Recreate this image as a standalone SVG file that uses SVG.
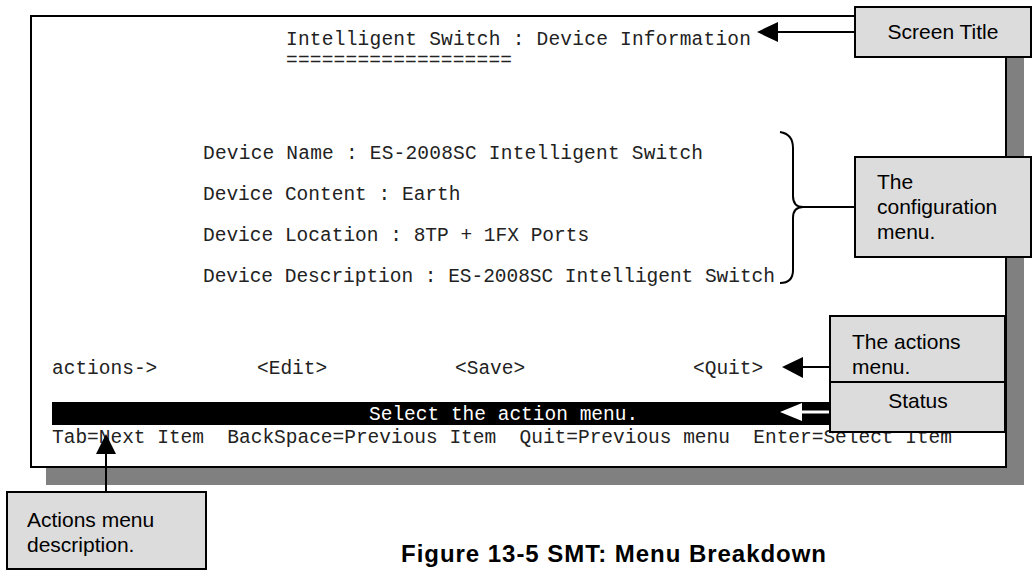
<svg xmlns="http://www.w3.org/2000/svg" width="1034" height="576" viewBox="0 0 1034 576">
<style>
.m{font-family:"Liberation Mono",monospace;font-size:19.5px;fill:#222;white-space:pre}
.l{font-family:"Liberation Sans",Arial,sans-serif;font-size:21px;fill:#000}
.b{fill:#dcdcdc;stroke:#000;stroke-width:2}
.c{stroke:#000;stroke-width:2;fill:none}
</style>
<g id="screen">
<rect x="46" y="30" width="978" height="455" fill="#808080"/>
<rect x="31" y="16" width="975" height="451" fill="#fff" stroke="#000" stroke-width="2"/>
<text class="m" x="286" y="45" textLength="465">Intelligent Switch : Device Information</text>
<text class="m" x="286" y="66" textLength="226">===================</text>
<text class="m" x="203" y="159" textLength="500">Device Name : ES-2008SC Intelligent Switch</text>
<text class="m" x="203" y="200">Device Content : Earth</text>
<text class="m" x="203" y="241">Device Location : 8TP + 1FX Ports</text>
<text class="m" x="203" y="282" textLength="572">Device Description : ES-2008SC Intelligent Switch</text>
<text class="m" x="52" y="374">actions-&gt;</text>
<text class="m" x="257" y="374">&lt;Edit&gt;</text>
<text class="m" x="455" y="374">&lt;Save&gt;</text>
<text class="m" x="693" y="374">&lt;Quit&gt;</text>
<rect x="52" y="402" width="780" height="23" fill="#000"/>
<text class="m" x="369" y="420" style="fill:#fff">Select the action menu.</text>
<text class="m" x="52" y="443" xml:space="preserve" textLength="900">Tab=Next Item  BackSpace=Previous Item  Quit=Previous menu  Enter=Select Item</text>
</g>
<g id="connectors">
<line class="c" x1="855" y1="32" x2="775" y2="32"/>
<polygon points="757,32 778,22 778,42" fill="#000"/>
<path class="c" d="M780,132 Q793,134 793,148 L793,196 Q793,207 803,207 Q793,207 793,218 L793,270 Q793,283 780,283"/>
<line class="c" x1="803" y1="207" x2="855" y2="207"/>
<line class="c" x1="830" y1="367" x2="800" y2="367"/>
<polygon points="782,367 803,357 803,378" fill="#000"/>
<line x1="830" y1="412" x2="800" y2="412" stroke="#fff" stroke-width="3"/>
<polygon points="780,412 802,403 802,421" fill="#fff"/>
<line class="c" x1="106" y1="492" x2="106" y2="452"/>
<polygon points="106,434 96,454 116,454" fill="#000"/>
</g>
<g id="screen-title"><rect class="b" x="855" y="7" width="176" height="50"/><text class="l" x="943" y="39" text-anchor="middle">Screen Title</text></g>
<g id="config-menu"><rect class="b" x="855" y="157" width="176" height="100"/><text class="l" x="877" y="189">The</text><text class="l" x="877" y="214">configuration</text><text class="l" x="877" y="239">menu.</text></g>
<g id="actions-menu"><rect class="b" x="830" y="316" width="175" height="66"/><text class="l" x="852" y="349">The actions</text><text class="l" x="852" y="374">menu.</text></g>
<g id="status"><rect class="b" x="830" y="382" width="175" height="50"/><text class="l" x="918" y="408" text-anchor="middle">Status</text></g>
<g id="actions-desc"><rect class="b" x="7" y="492" width="199" height="77"/><text class="l" x="27" y="527">Actions menu</text><text class="l" x="27" y="552">description.</text></g>
<text x="401" y="562" font-family="Liberation Sans,Arial,sans-serif" font-size="24" font-weight="bold" textLength="425">Figure 13-5 SMT: Menu Breakdown</text>
</svg>
